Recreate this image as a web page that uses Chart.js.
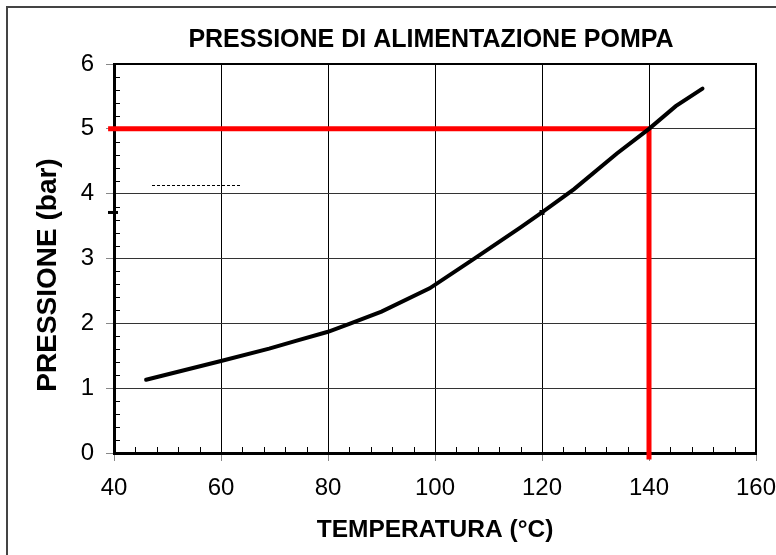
<!DOCTYPE html>
<html>
<head>
<meta charset="utf-8">
<script src="https://cdn.jsdelivr.net/npm/chart.js@4.4.0/dist/chart.umd.min.js"></script>
<style>
  html, body { margin: 0; padding: 0; background: #fff; }
  canvas { display: block; }
</style>
</head>
<body>
<canvas id="chart" width="776" height="555"></canvas>
<script>
// curva: temperatura (°C) -> pressione (bar)
const temps     = [46, 60, 69, 74, 80, 84, 90, 99, 107, 116, 120, 126, 134, 140, 145, 150];
const pressures = [1.13, 1.42, 1.61, 1.73, 1.87, 1.99, 2.18, 2.54, 2.98, 3.48, 3.71, 4.07, 4.62, 5.00, 5.35, 5.62];

// linea rossa di lettura (140 °C -> 5 bar)
const refTemps     = [38.9, 140, 140];
const refPressures = [5, 5, -0.1];

const TITLE   = 'PRESSIONE DI ALIMENTAZIONE POMPA';
const X_TITLE = 'TEMPERATURA (°C)';
const Y_TITLE = 'PRESSIONE (bar)';
const FONT = '"Liberation Sans", Arial, sans-serif';

const toXY = (xs, ys) => xs.map((x, i) => ({ x, y: ys[i] }));
const markIdx = temps.indexOf(120);

// sfondo, cornice esterna, titoli, tacche minori, bordo area
const decor = {
  id: 'decor',
  beforeDraw(chart) {
    const { ctx, width, height } = chart;
    ctx.save();
    ctx.fillStyle = '#fff';
    ctx.fillRect(0, 0, width, height);
    ctx.strokeStyle = '#444';
    ctx.lineWidth = 2;
    ctx.beginPath();
    ctx.moveTo(7, height);
    ctx.lineTo(7, 7);
    ctx.lineTo(width, 7);
    ctx.stroke();
    ctx.restore();
  },
  afterDraw(chart) {
    const { ctx, chartArea: a, scales: { x, y } } = chart;
    ctx.save();
    // titolo
    ctx.fillStyle = '#000';
    ctx.font = 'bold 25px ' + FONT;
    ctx.textAlign = 'center';
    ctx.textBaseline = 'middle';
    ctx.fillText(TITLE, 431, 40);

    // titolo asse y (un po' sotto il centro, come nell'originale)
    ctx.save();
    ctx.translate(48, 275);
    ctx.rotate(-Math.PI / 2);
    ctx.font = 'bold 28px ' + FONT;
    ctx.fillText(Y_TITLE, 0, 0);
    ctx.restore();

    // tacche minori interne
    ctx.strokeStyle = '#000';
    ctx.lineWidth = 1;
    ctx.beginPath();
    for (let v = 0; v <= 6.001; v += 0.2) {
      if (Math.abs(v - Math.round(v)) < 0.01) continue;
      const py = Math.round(y.getPixelForValue(v)) + 0.5;
      ctx.moveTo(a.left, py);
      ctx.lineTo(a.left + 6, py);
    }
    for (let v = 40; v <= 160; v += 4) {
      if (v % 20 === 0) continue;
      const px = Math.round(x.getPixelForValue(v)) + 0.5;
      ctx.moveTo(px, a.bottom);
      ctx.lineTo(px, a.bottom - 6);
    }
    ctx.stroke();

    // bordo superiore e destro
    ctx.lineWidth = 2;
    ctx.beginPath();
    ctx.moveTo(a.left, a.top);
    ctx.lineTo(a.right, a.top);
    ctx.lineTo(a.right, a.bottom);
    ctx.stroke();

    // segno sull'asse y alla lettura di 120 °C
    const my = y.getPixelForValue(pressures[markIdx]);
    ctx.lineWidth = 3;
    ctx.beginPath();
    ctx.moveTo(a.left - 6, my);
    ctx.lineTo(a.left + 4, my);
    ctx.stroke();

    // resti di testo tratteggiato
    ctx.lineWidth = 1;
    ctx.setLineDash([3, 2]);
    ctx.beginPath();
    ctx.moveTo(152, 185.5);
    ctx.lineTo(241, 185.5);
    ctx.stroke();
    ctx.restore();
  }
};

new Chart(document.getElementById('chart'), {
  type: 'line',
  data: {
    datasets: [
      {
        data: toXY(temps, pressures),
        borderColor: '#000',
        borderWidth: 4,
        tension: 0,
        pointRadius: temps.map((t, i) => (i === markIdx ? 3.5 : 0)),
        pointStyle: 'rect',
        pointBackgroundColor: '#000',
        pointBorderWidth: 0,
        borderCapStyle: 'round',
        order: 1,
      },
      {
        data: toXY(refTemps, refPressures),
        borderColor: '#ff0000',
        borderWidth: 5,
        tension: 0,
        pointRadius: 0,
        clip: false,
        order: 2,
      },
    ],
  },
  options: {
    responsive: false,
    animation: false,
    layout: { padding: { top: 64, right: 20, left: 0, bottom: 0 } },
    plugins: { legend: { display: false }, tooltip: { enabled: false } },
    scales: {
      x: {
        type: 'linear',
        min: 40,
        max: 160,
        ticks: { stepSize: 20, color: '#000', padding: 13, font: { family: FONT, size: 24 } },
        grid: { color: '#000', lineWidth: 1, tickLength: 8, tickColor: '#888' },
        border: { color: '#000', width: 3 },
        title: { display: true, text: X_TITLE, color: '#000', padding: { top: 0, bottom: 10 }, font: { family: FONT, size: 24.5, weight: 'bold' } },
        afterFit(s) { s.height = 102; s.paddingLeft = 0; s.paddingRight = 0; },
      },
      y: {
        min: 0,
        max: 6,
        ticks: { stepSize: 1, color: '#000', padding: 12, font: { family: FONT, size: 24 } },
        grid: { color: '#333', lineWidth: 1, tickLength: 8, tickColor: '#888' },
        border: { color: '#000', width: 3 },
        afterFit(s) { s.width = 114; s.paddingTop = 0; s.paddingBottom = 0; },
      },
    },
  },
  plugins: [decor],
});
</script>
</body>
</html>
